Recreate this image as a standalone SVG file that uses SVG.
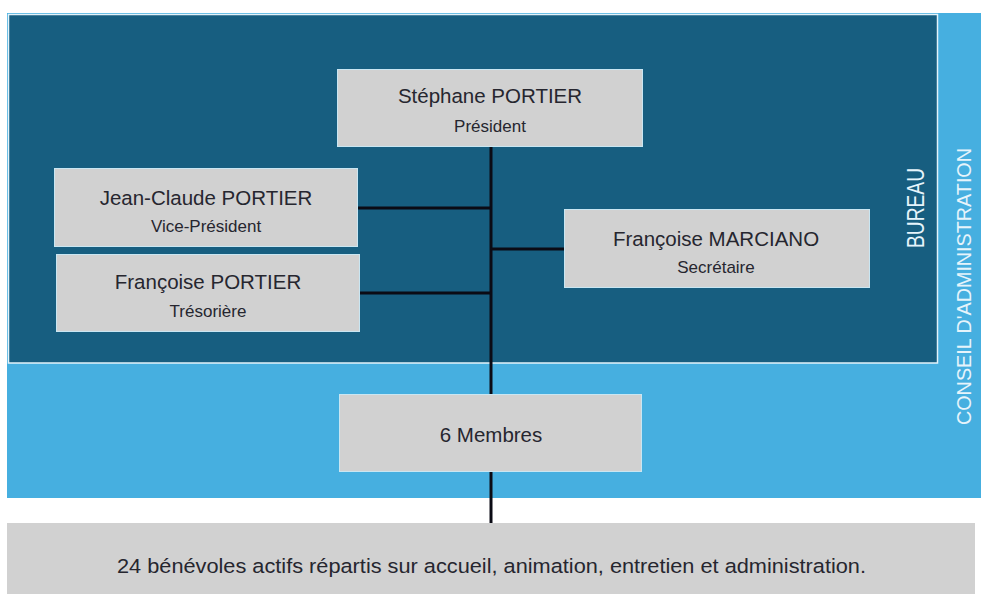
<svg xmlns="http://www.w3.org/2000/svg" width="981" height="594" viewBox="0 0 981 594">
<style>
.bg{fill:#ffffff}
.ca{fill:#46afe0}
.bureau{fill:#175e80;stroke:#e3f3fa;stroke-width:1.5}
.box{fill:#d1d1d1;stroke:#c9e6f2;stroke-width:1}
.name{font-family:"Liberation Sans",Arial,sans-serif;font-size:20.5px;fill:#26262f;text-anchor:middle}
.role{font-family:"Liberation Sans",Arial,sans-serif;font-size:17px;fill:#26262f;text-anchor:middle}
.band{font-family:"Liberation Sans",Arial,sans-serif;fill:#e6f4fb;text-anchor:middle}
.conn{stroke:#0b0b14;stroke-width:3;fill:none}
</style>
<rect class="bg" x="0" y="0" width="981" height="594"/>
<g id="conseil">
<rect class="ca" x="7" y="13" width="974" height="485"/>
<text class="band" font-size="20" transform="translate(971,286.5) rotate(-90)" textLength="277" lengthAdjust="spacingAndGlyphs">CONSEIL D'ADMINISTRATION</text>
</g>
<g id="bureau">
<rect class="bureau" x="8.5" y="14.5" width="929" height="348.5"/>
<text class="band" font-size="23" transform="translate(923.5,208) rotate(-90)" textLength="80" lengthAdjust="spacingAndGlyphs">BUREAU</text>
</g>
<g id="connectors">
<line class="conn" x1="491" y1="147" x2="491" y2="394"/>
<line class="conn" x1="358" y1="208" x2="491" y2="208"/>
<line class="conn" x1="360" y1="293" x2="491" y2="293"/>
<line class="conn" x1="491" y1="249" x2="564" y2="249"/>
<line class="conn" x1="491" y1="471" x2="491" y2="523"/>
</g>
<g id="president">
<rect class="box" x="337.5" y="69.5" width="305" height="77"/>
<text class="name" x="490" y="103">Stéphane PORTIER</text>
<text class="role" x="490" y="132">Président</text>
</g>
<g id="vice-president">
<rect class="box" x="54.5" y="168.5" width="303" height="78"/>
<text class="name" x="206" y="205">Jean-Claude PORTIER</text>
<text class="role" x="206" y="232">Vice-Président</text>
</g>
<g id="tresoriere">
<rect class="box" x="56.5" y="254.5" width="303" height="77"/>
<text class="name" x="208" y="289">Françoise PORTIER</text>
<text class="role" x="208" y="317">Trésorière</text>
</g>
<g id="secretaire">
<rect class="box" x="564.5" y="209.5" width="305" height="78"/>
<text class="name" x="716" y="246">Françoise MARCIANO</text>
<text class="role" x="716" y="273">Secrétaire</text>
</g>
<g id="membres">
<rect class="box" x="339.5" y="394.5" width="302" height="77"/>
<text class="name" x="491" y="442" font-size="21px">6 Membres</text>
</g>
<g id="benevoles">
<rect x="7" y="523" width="968" height="71" fill="#d1d1d1"/>
<text class="name" x="491.5" y="573" font-size="22px" textLength="749" lengthAdjust="spacingAndGlyphs">24 bénévoles actifs répartis sur accueil, animation, entretien et administration.</text>
</g>
</svg>
